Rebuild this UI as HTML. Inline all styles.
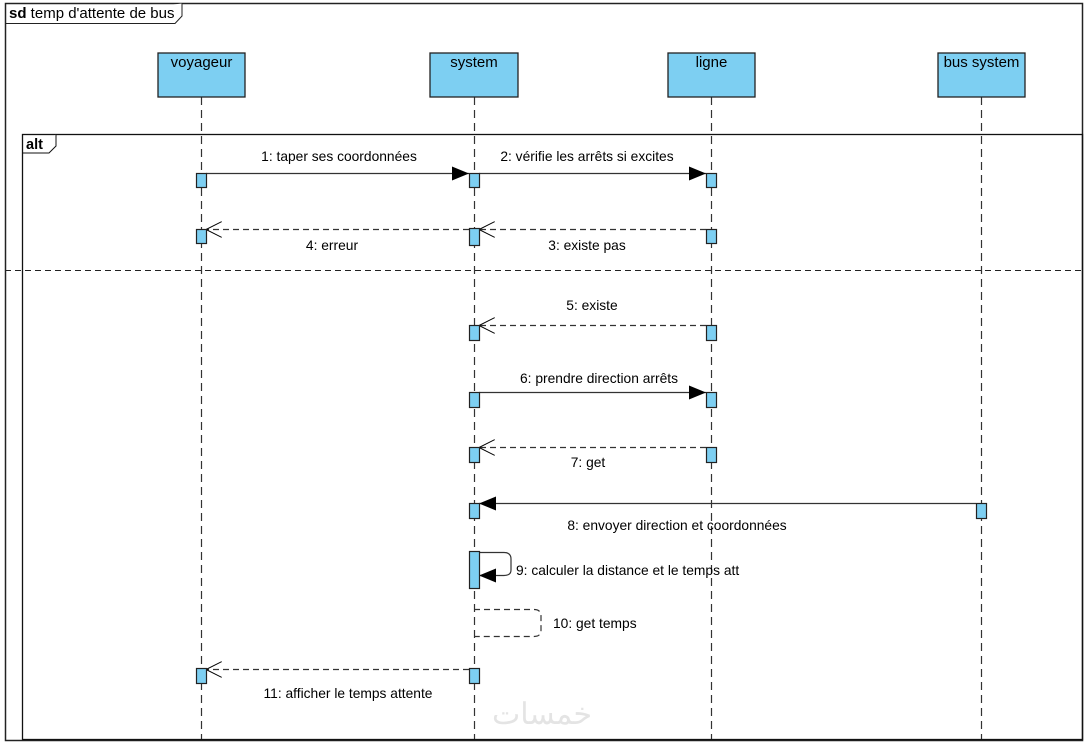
<!DOCTYPE html>
<html><head><meta charset="utf-8"><style>
html,body{margin:0;padding:0;background:#fff;width:1086px;height:742px;overflow:hidden}
text{font-family:"Liberation Sans",Arial,sans-serif;font-size:13.8px;fill:#000}
</style></head><body>
<svg width="1086" height="742" viewBox="0 0 1086 742" xmlns="http://www.w3.org/2000/svg">
<defs>
<marker id="fa" markerWidth="18" markerHeight="14" refX="17" refY="7" orient="auto" markerUnits="userSpaceOnUse"><path d="M0,0 L17,7 L0,14 Z" fill="#000"/></marker>
<marker id="oa" markerWidth="18" markerHeight="16" refX="16" refY="8" orient="auto" markerUnits="userSpaceOnUse"><path d="M0,0 L16,8 L0,16" fill="none" stroke="#000" stroke-width="1"/></marker>
</defs>
<rect x="5.5" y="3.5" width="1077" height="737" fill="none" stroke="#222" stroke-width="1.5"/>
<path d="M5.5,23.5 H175 L182,16 V3.5" fill="#fff" stroke="#222"/>
<text x="9" y="18" style="font-size:15px"><tspan font-weight="bold">sd</tspan> temp d'attente de bus</text>
<g stroke="#333" stroke-dasharray="8,5" stroke-width="1.2">
<line x1="201.5" y1="97" x2="201.5" y2="740"/>
<line x1="474.5" y1="97" x2="474.5" y2="740"/>
<line x1="711.5" y1="97" x2="711.5" y2="740"/>
<line x1="981.5" y1="97" x2="981.5" y2="740"/>
</g>
<g fill="#7dcff2" stroke="#222" stroke-width="1.3">
<rect x="158" y="53" width="87" height="44"/>
<rect x="430" y="53" width="88" height="44"/>
<rect x="668" y="53" width="87" height="44"/>
<rect x="938" y="53" width="87" height="44"/>
</g>
<g style="font-size:15px">
<text x="201.5" y="67" text-anchor="middle" style="font-size:15px">voyageur</text>
<text x="474" y="67" text-anchor="middle" style="font-size:15px">system</text>
<text x="711.5" y="67" text-anchor="middle" style="font-size:15px">ligne</text>
<text x="981.5" y="67" text-anchor="middle" style="font-size:15px">bus system</text>
</g>
<rect x="22.5" y="134.5" width="1060" height="605" fill="none" stroke="#111" stroke-width="1.3"/>
<path d="M22.5,153 H49 L56,146 V134.5" fill="#fff" stroke="#111"/>
<text x="26" y="149" font-weight="bold" style="font-size:14.5px">alt</text>
<line x1="5" y1="270.5" x2="1083" y2="270.5" stroke="#222" stroke-dasharray="6,4"/>
<g stroke="#333" stroke-width="1.2" fill="none">
<line x1="206" y1="173.5" x2="469" y2="173.5" marker-end="url(#fa)"/>
<line x1="479" y1="173.5" x2="706" y2="173.5" marker-end="url(#fa)"/>
<line x1="706" y1="229.5" x2="479" y2="229.5" stroke-dasharray="6,4" marker-end="url(#oa)"/>
<line x1="469" y1="229.5" x2="206" y2="229.5" stroke-dasharray="6,4" marker-end="url(#oa)"/>
<line x1="706" y1="325.5" x2="479" y2="325.5" stroke-dasharray="6,4" marker-end="url(#oa)"/>
<line x1="479" y1="392.5" x2="706" y2="392.5" marker-end="url(#fa)"/>
<line x1="706" y1="447.5" x2="479" y2="447.5" stroke-dasharray="6,4" marker-end="url(#oa)"/>
<line x1="976" y1="503.5" x2="479" y2="503.5" marker-end="url(#fa)"/>
<path d="M479,552.5 H504 Q511,552.5 511,559 V570 Q511,575.5 504,575.5 H479" marker-end="url(#fa)"/>
<path d="M474,609.5 H534 Q541,609.5 541,616 V630 Q541,636.5 534,636.5 H474" stroke-dasharray="6,4"/>
<line x1="469" y1="669.5" x2="206" y2="669.5" stroke-dasharray="6,4" marker-end="url(#oa)"/>
</g>
<g fill="#7dcff2" stroke="#222" stroke-width="1.2">
<rect x="196.5" y="173.5" width="10" height="14"/>
<rect x="469.5" y="173.5" width="10" height="14"/>
<rect x="706.5" y="173.5" width="10" height="14"/>
<rect x="196.5" y="229.5" width="10" height="14"/>
<rect x="469.5" y="228.5" width="10" height="17"/>
<rect x="706.5" y="229.5" width="10" height="14"/>
<rect x="469.5" y="325.5" width="10" height="15"/>
<rect x="706.5" y="325.5" width="10" height="15"/>
<rect x="469.5" y="392.5" width="10" height="15"/>
<rect x="706.5" y="392.5" width="10" height="15"/>
<rect x="469.5" y="447.5" width="10" height="15"/>
<rect x="706.5" y="447.5" width="10" height="15"/>
<rect x="469.5" y="503.5" width="10" height="15"/>
<rect x="976.5" y="503.5" width="10" height="15"/>
<rect x="469.5" y="551.5" width="10" height="37"/>
<rect x="469.5" y="668.5" width="10" height="15"/>
<rect x="196.5" y="668.5" width="10" height="15"/>
</g>
<text x="339" y="161" text-anchor="middle">1: taper ses coordonnées</text>
<text x="587" y="161" text-anchor="middle">2: vérifie les arrêts si excites</text>
<text x="587" y="250" text-anchor="middle">3: existe pas</text>
<text x="332" y="250" text-anchor="middle">4: erreur</text>
<text x="592" y="310" text-anchor="middle">5: existe</text>
<text x="599" y="383" text-anchor="middle">6: prendre direction arrêts</text>
<text x="588" y="467" text-anchor="middle">7: get</text>
<text x="677" y="530" text-anchor="middle">8: envoyer direction et coordonnées</text>
<text x="516" y="575">9: calculer la distance et le temps att</text>
<text x="553" y="628">10: get temps</text>
<text x="348" y="698" text-anchor="middle">11: afficher le temps attente</text>
<text x="542" y="724" text-anchor="middle" style="font-size:30px;fill:#e4e4e4">خمسات</text>
</svg>
</body></html>
